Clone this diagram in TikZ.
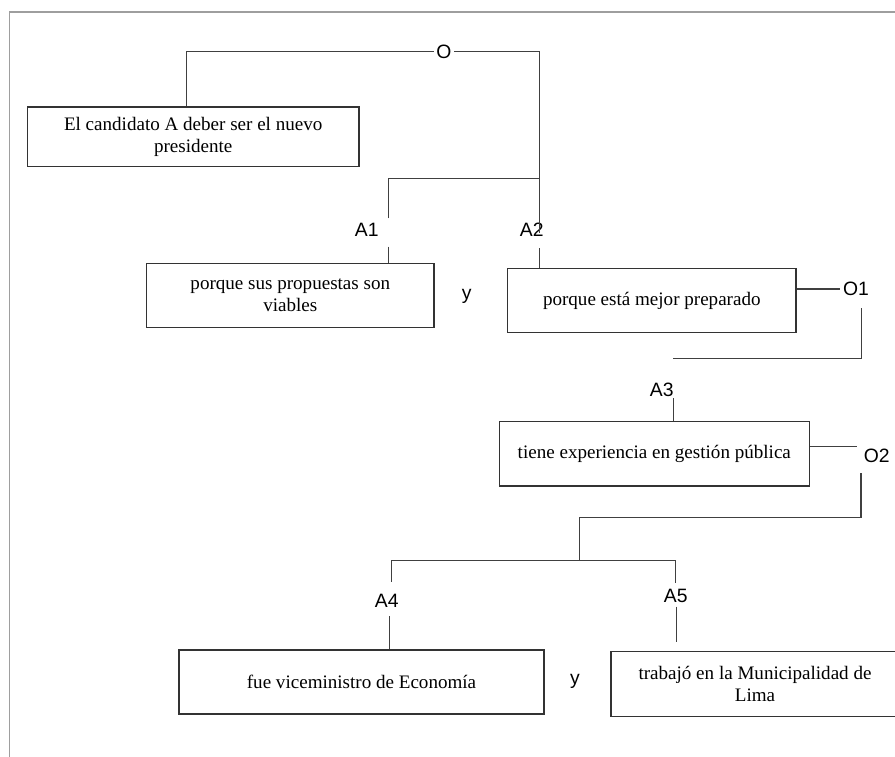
\documentclass[tikz,border=0pt]{standalone}
\usepackage{fontspec}
\setmainfont{Liberation Serif}
\setsansfont{Liberation Sans}

\tikzset{
	argbox/.style={draw=black!80, line width=0.9pt, align=center, inner sep=0pt, font=\fontsize{14.3}{16.5}\selectfont},
	tag/.style={font=\sffamily\fontsize{14.5}{16}\selectfont, inner sep=2pt},
	conn/.style={draw=black!75, line width=0.9pt},
	frame/.style={draw=black!38, line width=1.2pt}
}

\begin{document}
\begin{tikzpicture}[x=0.75pt,y=-0.75pt]
		%%%%% START %%%%%
		\useasboundingbox (0,0) rectangle (895,756);
		
		\draw[frame] (900,12) -- (9.3,12) -- (9.3,760);
		
		% cajas
		\node[argbox, minimum width=248.8pt, minimum height=44.8pt] (claim) at (193.2,136.8) {El candidato A deber ser el nuevo\\presidente};
		\node[argbox, minimum width=215.5pt, minimum height=48.3pt] (prop) at (290.3,295.5) {porque sus propuestas son\\viables};
		\node[argbox, minimum width=216.2pt, minimum height=48.3pt] (prep) at (651.8,300.5) {porque está mejor preparado};
		\node[argbox, minimum width=232.5pt, minimum height=48.2pt] (exp) at (654.3,453.8) {tiene experiencia en gestión pública};
		\node[argbox, minimum width=273.8pt, minimum height=48pt] (econ) at (361.5,682) {fue viceministro de Economía};
		\node[argbox, minimum width=216pt, minimum height=48.8pt] (lima) at (755,684.2) {trabajó en la Municipalidad de\\Lima};
		
		% etiquetas
		\node[tag] (O) at (444,51.7) {O};
		\node[tag] (A1) at (366.7,230) {A1};
		\node[tag] (A2) at (531.7,230) {A2};
		\node[tag] (O1) at (856,289) {O1};
		\node[tag] (A3) at (661.7,390) {A3};
		\node[tag] (O2) at (876.7,456) {O2};
		\node[tag] (A4) at (386.7,600.7) {A4};
		\node[tag] (A5) at (675.7,596) {A5};
		\node[tag] (y1) at (466.7,296.7) {y};
		\node[tag] (y2) at (575,681.7) {y};
		
		\coordinate (t1) at (539.3,178.3);
		\coordinate (j1) at (388.3,218.3);
		\coordinate (j2) at (539.3,233);
		\coordinate (k1) at (388.3,246.7);
		\coordinate (k2) at (539.3,248);
		\draw[conn] ([xshift=-4.9pt]claim.north) |- (O.west);
		\draw[conn] (O.east) -| (j2);
		\draw[conn] (j1) |- (t1);
		\draw[conn] (k1) -- (k1 |- prop.north);
		\draw[conn] (k2) -- (k2 |- prep.north);
		
		\coordinate (d1) at (861.7,308.3);
		\coordinate (e1) at (673.3,358.3);
		\coordinate (k3) at (673.3,398);
		\draw[conn] (prep.east |- O1.west) -- (O1.west);
		\draw[conn] (d1) |- (e1);
		\draw[conn] (k3) -- (k3 |- exp.north);
		
		\coordinate (f2) at (856.7,446.7);
		\coordinate (d2) at (861,473);
		\coordinate (g2) at (579.3,517.3);
		\coordinate (t3) at (579.3,560.7);
		\draw[conn] (exp.east |- f2) -- (f2);
		\draw[conn] (d2) |- (g2) -- (t3);
		
		\coordinate (j4) at (391.7,581.7);
		\coordinate (j5) at (675.7,583.3);
		\coordinate (k4) at (389.3,616);
		\coordinate (k5) at (676.7,606.7);
		\coordinate (m5) at (676.7,641.7);
		\draw[conn] (j4) |- (t3) -| (j5);
		\draw[conn] (k4) -- (k4 |- econ.north);
		\draw[conn] (k5) -- (m5);
		
		%%%%% END %%%%%
	\end{tikzpicture}
\end{document}
